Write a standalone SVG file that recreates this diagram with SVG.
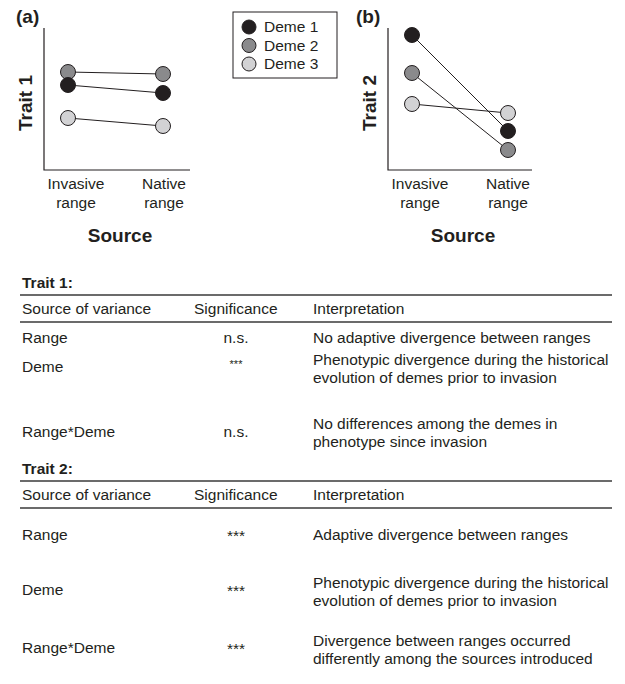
<svg xmlns="http://www.w3.org/2000/svg" width="625" height="684" viewBox="0 0 625 684">
<style>
text{font-family:"Liberation Sans",Arial,Helvetica,sans-serif;fill:#231f20}
.t{font-size:15.5px}
.b{font-weight:bold}
.lab{font-size:19px;font-weight:bold}
.ax{stroke:#231f20;stroke-width:1.2;fill:none}
.ln{stroke:#231f20;stroke-width:1}
.d1{fill:#231f20;stroke:#231f20;stroke-width:1}
.d2{fill:#8a8a8c;stroke:#231f20;stroke-width:1}
.d3{fill:#d2d2d4;stroke:#231f20;stroke-width:1}
.rule{stroke:#3a3a3a;stroke-width:1.3}
.mid{text-anchor:middle}
</style>
<rect width="625" height="684" fill="#ffffff"/>

<g id="panel-a">
  <text class="lab" x="16" y="23">(a)</text>
  <path class="ax" d="M44,28 V170 H190"/>
  <text class="lab mid" transform="translate(32,103) rotate(-90)">Trait 1</text>
  <g id="connectors-a">
    <line class="ln" x1="68" y1="72" x2="163" y2="74"/>
    <line class="ln" x1="68" y1="85" x2="163" y2="93"/>
    <line class="ln" x1="68" y1="118" x2="163" y2="126"/>
  </g>
  <circle class="d2" cx="68" cy="72" r="7.5"/>
  <circle class="d1" cx="68" cy="85" r="7.5"/>
  <circle class="d3" cx="68" cy="118" r="7.5"/>
  <circle class="d2" cx="163" cy="74" r="7.5"/>
  <circle class="d1" cx="163" cy="93" r="7.5"/>
  <circle class="d3" cx="163" cy="126" r="7.5"/>
  <text class="t mid" x="76" y="189">Invasive</text>
  <text class="t mid" x="76" y="208">range</text>
  <text class="t mid" x="164" y="189">Native</text>
  <text class="t mid" x="164" y="208">range</text>
  <text class="lab mid" x="120" y="242">Source</text>
</g>

<g id="legend">
  <rect x="233" y="12" width="104" height="66" fill="#fff" stroke="#231f20" stroke-width="1"/>
  <circle class="d1" cx="249" cy="27" r="7"/>
  <circle class="d2" cx="249" cy="45.5" r="7"/>
  <circle class="d3" cx="249" cy="64" r="7"/>
  <text class="t" x="264" y="32">Deme 1</text>
  <text class="t" x="264" y="50.5">Deme 2</text>
  <text class="t" x="264" y="69">Deme 3</text>
</g>

<g id="panel-b">
  <text class="lab" x="356" y="23">(b)</text>
  <path class="ax" d="M388,28 V170 H532"/>
  <text class="lab mid" transform="translate(376,103) rotate(-90)">Trait 2</text>
  <g id="connectors-b">
    <line class="ln" x1="412" y1="35" x2="508" y2="131"/>
    <line class="ln" x1="412" y1="73" x2="508" y2="150"/>
    <line class="ln" x1="412" y1="104" x2="508" y2="113"/>
  </g>
  <circle class="d1" cx="412" cy="35" r="7.5"/>
  <circle class="d2" cx="412" cy="73" r="7.5"/>
  <circle class="d3" cx="412" cy="104" r="7.5"/>
  <circle class="d3" cx="508" cy="113" r="7.5"/>
  <circle class="d1" cx="508" cy="131" r="7.5"/>
  <circle class="d2" cx="508" cy="150" r="7.5"/>
  <text class="t mid" x="420" y="189">Invasive</text>
  <text class="t mid" x="420" y="208">range</text>
  <text class="t mid" x="508" y="189">Native</text>
  <text class="t mid" x="508" y="208">range</text>
  <text class="lab mid" x="463" y="242">Source</text>
</g>

<g id="table-1">
  <text class="t b" x="22" y="288">Trait 1:</text>
  <line class="rule" x1="20" y1="295" x2="612" y2="295"/>
  <text class="t" x="22" y="314">Source of variance</text>
  <text class="t" x="194" y="314">Significance</text>
  <text class="t" x="313" y="314">Interpretation</text>
  <line class="rule" x1="20" y1="322" x2="612" y2="322"/>
  <text class="t" x="22" y="343">Range</text>
  <text class="t mid" x="236" y="343">n.s.</text>
  <text class="t" x="313" y="343">No adaptive divergence between ranges</text>
  <text class="t" x="22" y="372">Deme</text>
  <text class="mid" x="236" y="368" font-size="11">***</text>
  <text class="t" x="313" y="365">Phenotypic divergence during the historical</text>
  <text class="t" x="313" y="383">evolution of demes prior to invasion</text>
  <text class="t" x="22" y="437">Range*Deme</text>
  <text class="t mid" x="236" y="437">n.s.</text>
  <text class="t" x="313" y="429">No differences among the demes in</text>
  <text class="t" x="313" y="447">phenotype since invasion</text>
</g>

<g id="table-2">
  <text class="t b" x="22" y="474">Trait 2:</text>
  <line class="rule" x1="20" y1="481" x2="612" y2="481"/>
  <text class="t" x="22" y="500">Source of variance</text>
  <text class="t" x="194" y="500">Significance</text>
  <text class="t" x="313" y="500">Interpretation</text>
  <line class="rule" x1="20" y1="508" x2="612" y2="508"/>
  <text class="t" x="22" y="540">Range</text>
  <text class="t mid" x="236" y="541">***</text>
  <text class="t" x="313" y="540">Adaptive divergence between ranges</text>
  <text class="t" x="22" y="595">Deme</text>
  <text class="t mid" x="236" y="596">***</text>
  <text class="t" x="313" y="588">Phenotypic divergence during the historical</text>
  <text class="t" x="313" y="606">evolution of demes prior to invasion</text>
  <text class="t" x="22" y="653">Range*Deme</text>
  <text class="t mid" x="236" y="654">***</text>
  <text class="t" x="313" y="646">Divergence between ranges occurred</text>
  <text class="t" x="313" y="664">differently among the sources introduced</text>
</g>
</svg>
